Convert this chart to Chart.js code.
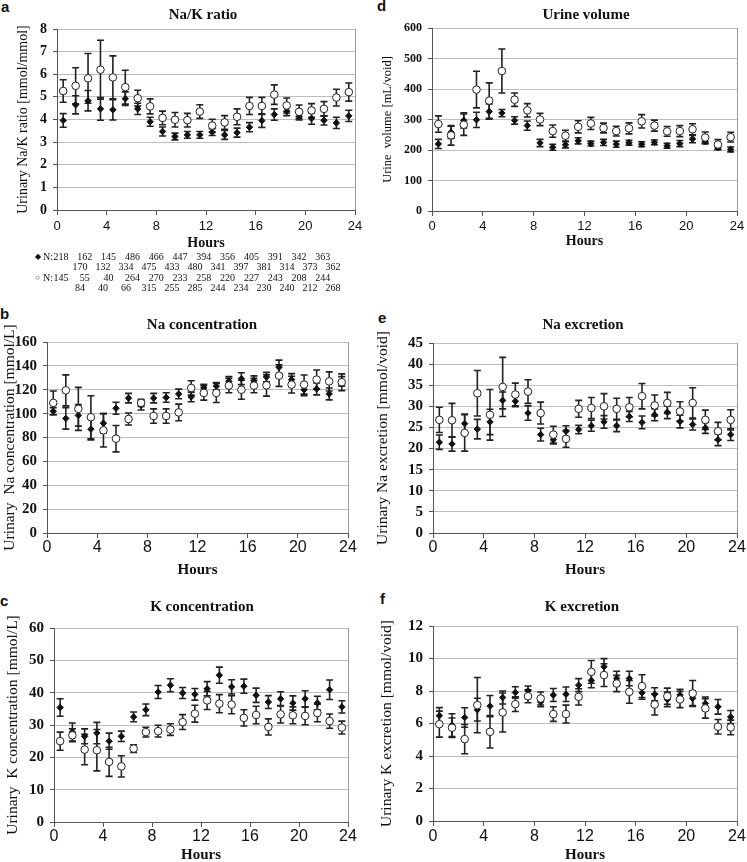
<!DOCTYPE html>
<html>
<head>
<meta charset="utf-8">
<script src="https://cdn.jsdelivr.net/npm/chart.js@4.4.1/dist/chart.umd.min.js"></script>
<style>
  body { margin: 0; width: 747px; height: 862px; overflow: hidden; background: #fff; position: relative; font-family: "Liberation Serif", serif; color: #111; }
  canvas { position: absolute; }
  .lbl { position: absolute; font: bold 15px "Liberation Sans", Arial, sans-serif; line-height: 15px; }
  .n { position: absolute; font-size: 10px; line-height: 10px; transform: translateX(-50%); white-space: nowrap; }
  .nhead { position: absolute; font-size: 10px; line-height: 10px; white-space: nowrap; }
  .nsym { position: absolute; font-size: 8px; line-height: 10px; }
</style>
</head>
<body>
<div class="lbl" style="left:1px;top:-1px">a</div>
<div class="lbl" style="left:377px;top:-2px">d</div>
<div class="lbl" style="left:0px;top:306px">b</div>
<div class="lbl" style="left:378px;top:310px">e</div>
<div class="lbl" style="left:0px;top:593px">c</div>
<div class="lbl" style="left:380px;top:591px">f</div>

<script>
// hour bins (mid-points)
const hours = [0.5, 1.5, 2.5, 3.5, 4.5, 5.5, 6.5, 7.5, 8.5, 9.5, 10.5, 11.5,
               12.5, 13.5, 14.5, 15.5, 16.5, 17.5, 18.5, 19.5, 20.5, 21.5, 22.5, 23.5];

// a: Na/K ratio
const ratioBlack = [3.96, 4.65, 4.83, 4.47, 4.43, 4.92, 4.47, 3.90, 3.47, 3.25, 3.32, 3.32, 3.44, 3.32, 3.42, 3.66, 3.95, 4.22, 4.37, 4.13, 4.04, 3.96, 3.85, 4.16];
const ratioBlackErr = [0.3, 0.4, 0.45, 0.5, 0.45, 0.3, 0.25, 0.2, 0.2, 0.15, 0.15, 0.15, 0.15, 0.2, 0.2, 0.2, 0.3, 0.25, 0.2, 0.15, 0.25, 0.2, 0.25, 0.25];
const ratioWhite = [5.26, 5.49, 5.82, 6.2, 5.86, 5.43, 4.94, 4.58, 4.07, 3.99, 3.97, 4.35, 3.73, 3.87, 4.12, 4.6, 4.6, 5.1, 4.62, 4.34, 4.4, 4.47, 4.97, 5.21];
const ratioWhiteErr = [0.5, 0.8, 1.1, 1.3, 0.95, 0.75, 0.35, 0.33, 0.3, 0.32, 0.3, 0.3, 0.28, 0.3, 0.35, 0.38, 0.38, 0.43, 0.33, 0.3, 0.3, 0.32, 0.37, 0.4];

// d: urine volume
const volBlack = [220, 258, 297, 299, 326, 321, 297, 280, 223, 209, 217, 230, 221, 225, 219, 224, 219, 225, 214, 221, 236, 228, 207, 202];
const volBlackErr = [15, 20, 25, 25, 25, 12, 12, 15, 12, 10, 10, 10, 8, 10, 10, 8, 8, 8, 8, 10, 12, 8, 6, 8];
const volWhite = [285, 248, 283, 398, 362, 459, 365, 330, 300, 262, 247, 276, 287, 272, 262, 271, 294, 280, 261, 262, 268, 241, 218, 242];
const volWhiteErr = [27, 32, 35, 60, 58, 72, 22, 22, 20, 20, 18, 20, 20, 16, 16, 18, 22, 18, 16, 18, 18, 18, 16, 16];

// b: Na concentration
const naConcBlack = [102, 96, 98.5, 87, 92, 104.5, 113, 107, 113, 113.5, 116.5, 114, 121.5, 123, 127, 129.3, 127.6, 130.7, 138.8, 128.5, 120, 120.7, 116.5, 127];
const naConcBlackErr = [3, 9, 9, 9, 8, 5, 4, 4, 4, 4, 4, 4, 3, 3, 4, 5, 4, 4, 6, 5, 5, 5, 5, 4];
const naConcWhite = [109, 119.5, 104, 97, 86, 79, 95.5, 109, 98, 98, 101, 121.5, 117.3, 117.3, 123.5, 120, 123.5, 123.7, 131.8, 124.3, 124.3, 128.5, 127, 126.3];
const naConcWhiteErr = [10, 13, 18, 18, 14, 11, 5, 3, 6, 6, 7, 6, 6, 8, 6, 8, 6, 9, 9, 7, 8, 8, 8, 7];

// e: Na excretion
const naExBlack = [21.5, 21.1, 25.9, 24.6, 26.3, 31.4, 31.2, 28.4, 23.3, 22.1, 24.1, 24.5, 25.4, 26.3, 25.4, 27.6, 26.2, 28, 28.6, 26.4, 25.7, 24.9, 22.1, 23.3];
const naExBlackErr = [1.7, 1.7, 2.3, 2.3, 3, 2, 1.3, 1.7, 1.5, 1, 1.3, 1, 1.3, 1.5, 1.4, 1.2, 1.5, 1.4, 1.5, 1.5, 1.3, 1.3, 1.4, 1.4];
const naExWhite = [26.8, 26.7, 23.7, 33.1, 28, 34.6, 32.8, 33.5, 28.4, 23.3, 22.3, 29.4, 29.6, 30, 29.4, 29.8, 32.4, 30.2, 30.8, 28.8, 30.8, 26.8, 24.1, 26.8];
const naExWhiteErr = [3, 4, 4.3, 5.4, 6, 7, 2.7, 2.8, 2.6, 2, 2, 2, 2.5, 3, 2.5, 2.3, 3, 2.5, 2.5, 2.3, 3.6, 2.3, 2.1, 2.4];

// c: K concentration
const kConcBlack = [35.4, 27.8, 26.5, 27.5, 25, 26.5, 32.5, 34.7, 40.2, 42.3, 39.9, 39.5, 41.2, 45.4, 41.8, 42, 39.2, 37.1, 38.1, 36.8, 38.1, 36.8, 40.9, 35.6];
const kConcBlackErr = [2.7, 2.8, 2.3, 3.3, 2.5, 1.6, 1.5, 1.8, 2, 2, 1.7, 1.8, 2.2, 2.5, 2.2, 2.2, 2.2, 2, 2.2, 2.2, 2.5, 2.1, 3, 1.9];
const kConcWhite = [25, 26.8, 22.4, 22.2, 18.6, 17.2, 22.7, 27.8, 28.1, 28.6, 30.9, 33.5, 37.6, 36.6, 36.3, 32.2, 33.1, 29.4, 33.3, 33, 32.8, 33.7, 31.2, 29.2];
const kConcWhiteErr = [2.8, 2, 4.7, 6.4, 4.5, 3.3, 1.2, 1.5, 1.8, 1.8, 2.3, 2.6, 2.8, 2.8, 2.8, 2.5, 2.7, 2.5, 2.7, 2.6, 2.7, 2.7, 2.2, 2];

// f: K excretion
const kExBlack = [6.48, 5.9, 6.37, 6.85, 7.07, 7.6, 7.91, 8.01, 7.33, 7.75, 7.8, 8.36, 8.65, 9.49, 8.77, 8.77, 7.89, 7.8, 7.48, 7.75, 7.55, 7.23, 7.03, 6.4];
const kExBlackErr = [0.5, 0.7, 0.6, 0.7, 0.65, 0.4, 0.35, 0.3, 0.3, 0.4, 0.45, 0.4, 0.45, 0.5, 0.45, 0.45, 0.4, 0.4, 0.45, 0.35, 0.45, 0.4, 0.45, 0.4];
const kExWhite = [5.96, 5.74, 5.04, 7.13, 5.49, 6.68, 7.19, 7.68, 7.54, 6.58, 6.58, 7.64, 9.18, 8.98, 8.46, 7.95, 8.3, 7.17, 7.68, 7.48, 7.85, 6.93, 5.8, 5.76];
const kExWhiteErr = [0.8, 0.6, 0.9, 1.7, 1.0, 1.2, 0.45, 0.4, 0.4, 0.45, 0.55, 0.5, 0.7, 0.7, 0.5, 0.7, 0.7, 0.65, 0.5, 0.5, 0.8, 0.6, 0.45, 0.45];

// sample sizes under panel a
const nBlack = [218, 170, 162, 132, 145, 334, 486, 475, 466, 433, 447, 480, 394, 341, 356, 397, 405, 381, 391, 314, 342, 373, 363, 362];
const nWhite = [145, 84, 55, 40, 40, 66, 264, 315, 270, 255, 233, 285, 258, 244, 220, 234, 227, 230, 243, 240, 208, 212, 244, 268];

const SERIF = '"Liberation Serif", "Times New Roman", serif';
const SANS = '"Liberation Sans", Arial, sans-serif';

// vertical error bars with caps, plus the right frame line
const errorBars = {
  id: 'errorBars',
  beforeDatasetsDraw(chart) {
    const { ctx, chartArea: a, scales: { x, y } } = chart;
    ctx.save();
    ctx.strokeStyle = '#9a9a9a';
    ctx.lineWidth = 1;
    ctx.beginPath();
    ctx.moveTo(a.right + 0.5, a.top);
    ctx.lineTo(a.right + 0.5, a.bottom);
    ctx.stroke();
    ctx.strokeStyle = '#222';
    ctx.lineWidth = 1.6;
    chart.data.datasets.forEach(ds => {
      ds.data.forEach((pt, i) => {
        const e = ds.errors[i];
        const px = x.getPixelForValue(pt.x);
        const top = y.getPixelForValue(pt.y + e);
        const bot = y.getPixelForValue(pt.y - e);
        ctx.beginPath();
        ctx.moveTo(px, top); ctx.lineTo(px, bot);
        ctx.moveTo(px - 3.5, top); ctx.lineTo(px + 3.5, top);
        ctx.moveTo(px - 3.5, bot); ctx.lineTo(px + 3.5, bot);
        ctx.stroke();
      });
    });
    ctx.restore();
  }
};

function pts(vals) {
  return hours.map((h, i) => ({ x: h, y: vals[i] }));
}

function makePanel(p) {
  const tLH = p.titleSize * 1.2, yLH = p.yTitleSize * 1.2, hLH = p.hoursSize * 1.2;
  const cl = Math.round(p.yTitleX - yLH / 2 - 1);
  const ct = Math.round(p.titleY - tLH / 2 - 2);
  const cw = Math.round(2 * (p.titleX - cl));
  const ch = Math.round(p.hoursY + hLH / 2 + 3 - ct);
  const yW = p.L - cl;
  const xH = ct + ch - p.B;
  const rW = cl + cw - p.R;
  const titlePadTop = p.titleY - tLH / 2 - ct;
  const titlePadBottom = p.T - ct - titlePadTop - tLH;
  const xTickPad = Math.max(0, p.tickY - p.B - 5 - p.xTickSize * 0.6);
  const yTitlePad = p.yTitleX - yLH / 2 - cl;

  const cv = document.createElement('canvas');
  cv.width = cw;
  cv.height = ch;
  cv.style.left = cl + 'px';
  cv.style.top = ct + 'px';
  document.body.appendChild(cv);

  new Chart(cv, {
    type: 'scatter',
    data: {
      datasets: [
        { label: 'white', data: pts(p.white), errors: p.whiteErr, pointStyle: 'circle', pointRadius: 3.8,
          backgroundColor: '#fff', borderColor: '#222', borderWidth: 1 },
        { label: 'black', data: pts(p.black), errors: p.blackErr, pointStyle: 'rectRot', pointRadius: 3.2,
          backgroundColor: '#111', borderColor: '#111', borderWidth: 1 }
      ]
    },
    options: {
      responsive: false,
      animation: false,
      events: [],
      layout: { padding: 0 },
      plugins: {
        legend: { display: false },
        tooltip: { enabled: false },
        title: {
          display: true, text: p.title, color: '#111',
          font: { family: SERIF, size: p.titleSize, weight: 'bold' },
          padding: { top: titlePadTop, bottom: titlePadBottom }
        }
      },
      scales: {
        x: {
          type: 'linear', min: 0, max: 24,
          afterFit: s => { s.height = xH; },
          ticks: { stepSize: 4, color: '#111', padding: xTickPad, font: { family: SANS, size: p.xTickSize } },
          grid: { drawOnChartArea: false, tickLength: 5, tickColor: '#555' },
          border: { color: '#555' },
          title: { display: true, text: 'Hours', color: '#111', padding: { top: 0, bottom: 3 },
                   font: { family: SERIF, size: p.hoursSize, weight: 'bold' } }
        },
        y: {
          min: 0, max: p.yMax,
          afterFit: s => { s.width = yW; },
          ticks: { stepSize: p.yStep, color: '#111', padding: 6, font: { family: SERIF, size: p.yTickSize, weight: 'bold' } },
          grid: { color: '#bdbdbd', tickLength: 4, tickColor: '#555' },
          border: { color: '#555' },
          title: { display: true, text: p.yTitle, color: '#111', padding: { top: yTitlePad, bottom: 0 },
                   font: { family: SERIF, size: p.yTitleSize } }
        },
        yR: {
          position: 'right',
          afterFit: s => { s.width = rW; },
          grid: { display: false },
          ticks: { display: false },
          border: { display: false }
        }
      }
    },
    plugins: [errorBars]
  });
}

makePanel({ L: 57, T: 29, R: 355, B: 210, titleX: 203, titleY: 15, yTitleX: 23, tickY: 226, hoursY: 244,
  title: 'Na/K ratio', yTitle: 'Urinary Na/K ratio [mmol/mmol]', yMax: 8, yStep: 1,
  titleSize: 15, yTitleSize: 14, yTickSize: 14, xTickSize: 13, hoursSize: 14,
  black: ratioBlack, blackErr: ratioBlackErr, white: ratioWhite, whiteErr: ratioWhiteErr });

makePanel({ L: 432, T: 28, R: 737, B: 211, titleX: 586, titleY: 15, yTitleX: 388, tickY: 226, hoursY: 242,
  title: 'Urine volume', yTitle: 'Urine  volume [mL/void]', yMax: 600, yStep: 100,
  titleSize: 15, yTitleSize: 12.5, yTickSize: 12, xTickSize: 13, hoursSize: 14,
  black: volBlack, blackErr: volBlackErr, white: volWhite, whiteErr: volWhiteErr });

makePanel({ L: 47, T: 342, R: 348, B: 533, titleX: 202, titleY: 325, yTitleX: 10, tickY: 548, hoursY: 570,
  title: 'Na concentration', yTitle: 'Urinary  Na concentration [mmol/L]', yMax: 160, yStep: 20,
  titleSize: 15, yTitleSize: 15.5, yTickSize: 15, xTickSize: 16, hoursSize: 15,
  black: naConcBlack, blackErr: naConcBlackErr, white: naConcWhite, whiteErr: naConcWhiteErr });

makePanel({ L: 433, T: 343, R: 737, B: 533, titleX: 583, titleY: 325, yTitleX: 383, tickY: 548, hoursY: 570,
  title: 'Na excretion', yTitle: 'Urinary Na excretion [mmol/void]', yMax: 45, yStep: 5,
  titleSize: 15, yTitleSize: 15.5, yTickSize: 15, xTickSize: 16, hoursSize: 15,
  black: naExBlack, blackErr: naExBlackErr, white: naExWhite, whiteErr: naExWhiteErr });

makePanel({ L: 54, T: 628, R: 348, B: 822, titleX: 202, titleY: 607, yTitleX: 13, tickY: 837, hoursY: 855,
  title: 'K concentration', yTitle: 'Urinary  K concentration [mmol/L]', yMax: 60, yStep: 10,
  titleSize: 15, yTitleSize: 15.5, yTickSize: 15, xTickSize: 16, hoursSize: 15,
  black: kConcBlack, blackErr: kConcBlackErr, white: kConcWhite, whiteErr: kConcWhiteErr });

makePanel({ L: 433, T: 626, R: 737, B: 821, titleX: 582, titleY: 607, yTitleX: 387, tickY: 837, hoursY: 855,
  title: 'K excretion', yTitle: 'Urinary K excretion [mmol/void]', yMax: 12, yStep: 2,
  titleSize: 15, yTitleSize: 15.5, yTickSize: 15, xTickSize: 16, hoursSize: 15,
  black: kExBlack, blackErr: kExBlackErr, white: kExWhite, whiteErr: kExWhiteErr });

// N table under panel a: values alternate between two text rows
function nRows(vals, symbol, y1) {
  const sym = document.createElement('div');
  sym.className = 'nsym';
  sym.style.left = '35px';
  sym.style.top = y1 + 'px';
  sym.textContent = symbol;
  document.body.appendChild(sym);
  const head = document.createElement('div');
  head.className = 'nhead';
  head.style.left = '43px';
  head.style.top = y1 + 'px';
  head.textContent = 'N:';
  document.body.appendChild(head);
  vals.forEach((v, i) => {
    const d = document.createElement('div');
    d.className = 'n';
    const k = Math.floor(i / 2);
    if (i % 2 === 0) {
      d.style.left = (61 + 23.8 * k) + 'px';
      d.style.top = y1 + 'px';
    } else {
      d.style.left = (80 + 23 * k) + 'px';
      d.style.top = (y1 + 10) + 'px';
    }
    d.textContent = v;
    document.body.appendChild(d);
  });
}
nRows(nBlack, '\u25C6', 252);
nRows(nWhite, '\u25CB', 273);
</script>
</body>
</html>
